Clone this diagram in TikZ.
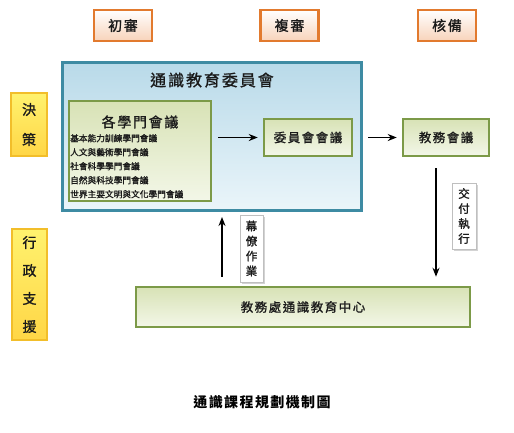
\documentclass[tikz,border=0pt]{standalone}
\usepackage{fontspec}
\newfontfamily\cjk[FakeBold=1.2]{Noto Sans CJK TC}
\newfontfamily\cjksp[LetterSpace=12,FakeBold=1.2]{Noto Sans CJK TC}
\newfontfamily\cjkcap[LetterSpace=10]{Noto Sans CJK TC}
\usetikzlibrary{arrows.meta,shadows,calc}
\definecolor{orangeC}{HTML}{E27A2E}
\definecolor{peach}{HTML}{F8D3BA}
\definecolor{yelB}{HTML}{F2BE2A}
\definecolor{yelT}{HTML}{FFF26E}
\definecolor{yelD}{HTML}{FFD646}
\definecolor{grnB}{HTML}{7C9A48}
\definecolor{grnT}{HTML}{D8E2B6}
\definecolor{grnL}{HTML}{F3F7E8}
\definecolor{bluB}{HTML}{3E8BA3}
\definecolor{bluT}{HTML}{B9DAE9}
\definecolor{bluL}{HTML}{EAF5FA}
\definecolor{txt}{HTML}{1A1A1A}
\tikzset{
  stagebox/.style={draw=orangeC, line width=2.5pt, top color=white, bottom color=peach,
    minimum width=58pt, minimum height=31pt, inner sep=0pt, text=txt,
    font=\cjksp\fontsize{14}{14}\selectfont},
  yelbox/.style={draw=yelB, line width=2pt, top color=yelT, bottom color=yelD,
    inner sep=0pt, align=center, text=txt},
  grnbox/.style={draw=grnB, line width=2.5pt, top color=grnT, bottom color=grnL,
    inner sep=0pt, text=txt, font=\cjksp\fontsize{12.5}{12.5}\selectfont},
  bluebox/.style={draw=bluB, line width=3pt, top color=bluT, bottom color=bluL, inner sep=0pt},
  lbl/.style={draw=black!25, line width=0.6pt, fill=white, inner sep=0pt, align=center,
    text=txt, font=\cjk\fontsize{11.5}{15}\selectfont,
    drop shadow={shadow xshift=1.5pt, shadow yshift=-1.5pt, opacity=0.35}},
  arr/.style={line width=1.8pt, -{Stealth[length=9pt,width=7pt]}},
}
\begin{document}
\begin{tikzpicture}[x=1pt,y=-1pt]
\useasboundingbox (0,0) rectangle (514,432);
% stage headers
\node[stagebox] (s1) at (123,25.5) {初審};
\node[stagebox] (s2) at (289.5,25.5) {複審};
\node[stagebox] (s3) at (447,25.5) {核備};
% big committee box
\node[bluebox, minimum width=299pt, minimum height=148pt] (big) at (212,136.5) {};
\node[text=txt, font=\cjksp\fontsize{16}{16}\selectfont] (bigt) at (212,80) {通識教育委員會};
% department meetings
\node[grnbox, minimum width=142pt, minimum height=100pt] (dept) at (140,151) {};
\node[text=txt, font=\cjksp\fontsize{14}{14}\selectfont] (deptt) at (140,122) {各學門會議};
\node[anchor=north west, align=left, inner sep=0pt, text=txt,
  font=\cjk\fontsize{8.7}{14}\selectfont] (deptl) at (70,134)
  {基本能力訓練學門會議\\人文與藝術學門會議\\社會科學學門會議\\自然與科技學門會議\\世界主要文明與文化學門會議};
% committee meeting / academic affairs
\node[grnbox, minimum width=88pt, minimum height=37pt] (comm) at (308,137.5) {委員會會議};
\node[grnbox, minimum width=86pt, minimum height=37pt] (jw) at (446,137.5) {教務會議};
% center
\node[grnbox, minimum width=334pt, minimum height=40pt] (ctr) at (303,307) {教務處通識教育中心};
% side labels
\node[yelbox, minimum width=36pt, minimum height=63pt, font=\cjk\fontsize{14}{30}\selectfont] (dec) at (29,124.5) {決\\策};
\node[yelbox, minimum width=35pt, minimum height=111pt, font=\cjk\fontsize{14}{28}\selectfont] (adm) at (29.5,284.5) {行\\政\\支\\援};
% arrow labels
\node[lbl, minimum width=23pt, minimum height=67pt] (lb1) at (251.5,248.5) {幕\\僚\\作\\業};
\node[lbl, minimum width=24pt, minimum height=66pt] (lb2) at (464,216) {交\\付\\執\\行};
% connectors
\draw[arr, shorten <=6pt, shorten >=5pt] (dept.east |- comm.west) -- (comm.west);
\draw[arr, shorten <=15pt, shorten >=5pt] (comm.east) -- (jw.west);
\coordinate (dnx) at (436,0);
\coordinate (upx) at (222,0);
\draw[arr, shorten <=11pt, shorten >=9pt] (dnx |- jw.south) -- (dnx |- ctr.north);
\draw[arr, shorten <=9pt, shorten >=5pt] (upx |- ctr.north) -- (upx |- big.south);
% caption
\node[text=black, font=\cjkcap\bfseries\fontsize{14}{14}\selectfont] (cap) at (262,402) {通識課程規劃機制圖};
\end{tikzpicture}
\end{document}
